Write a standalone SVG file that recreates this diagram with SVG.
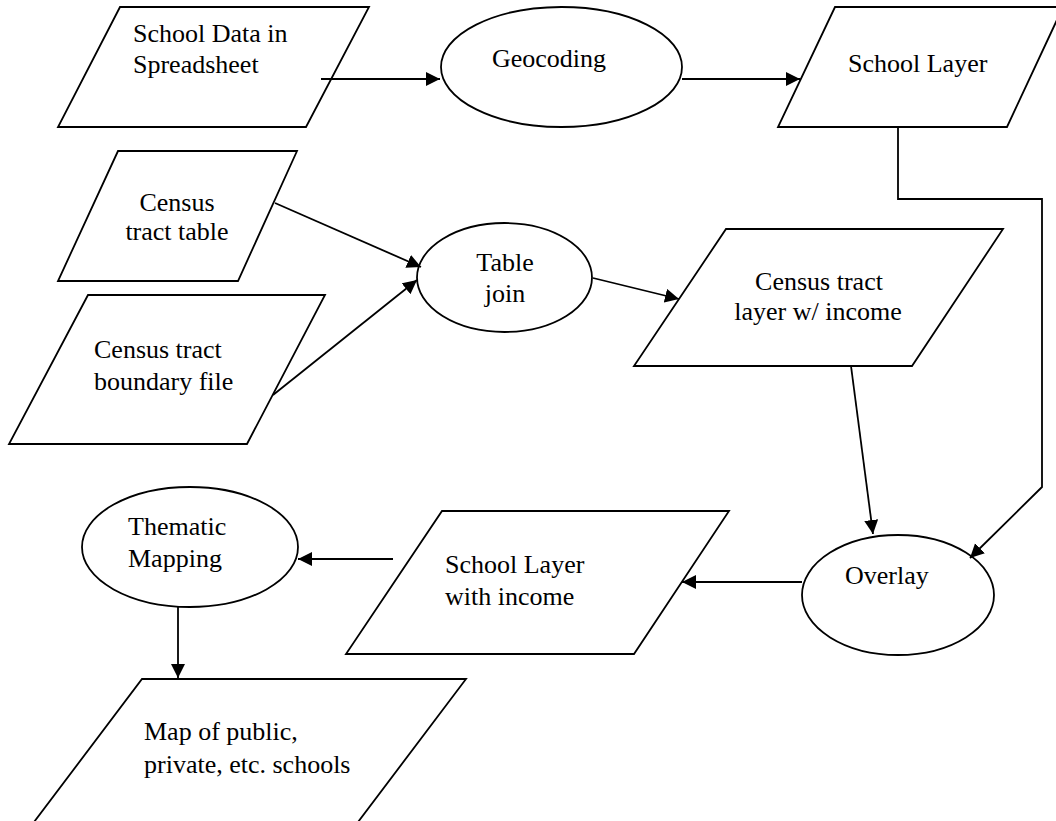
<svg xmlns="http://www.w3.org/2000/svg" width="1056" height="821" viewBox="0 0 1056 821">
  <style>
    .shape { fill: #ffffff; stroke: #000000; stroke-width: 1.8; }
    .link { fill: none; stroke: #000000; stroke-width: 1.8; }
    .label { font-family: "Liberation Serif", "Times New Roman", serif; font-size: 26px; fill: #000000; }
    .mid { text-anchor: middle; }
  </style>
  <defs>
    <marker id="arrow" markerUnits="userSpaceOnUse" markerWidth="15" markerHeight="15" refX="14" refY="7" orient="auto">
      <path d="M0,0 L14,7 L0,14 z" fill="#000000"/>
    </marker>
  </defs>
  <rect width="1056" height="821" fill="#ffffff"/>

  <g id="school-data">
    <polygon class="shape" points="120,7 369,7 306,127 58,127"/>
    <text class="label" x="133" y="42">School Data in</text>
    <text class="label" x="133" y="73">Spreadsheet</text>
  </g>

  <g id="geocoding">
    <ellipse class="shape" cx="561.5" cy="67" rx="120.5" ry="60"/>
    <text class="label" x="492" y="67">Geocoding</text>
  </g>

  <g id="school-layer">
    <polygon class="shape" points="835,7 1063,7 1007,127 778,127"/>
    <text class="label" x="848" y="72">School Layer</text>
  </g>

  <g id="census-table">
    <polygon class="shape" points="118,151 297,151 238,281 58,281"/>
    <text class="label mid" x="177" y="211">Census</text>
    <text class="label mid" x="177" y="240">tract table</text>
  </g>

  <g id="census-boundary">
    <polygon class="shape" points="88,295 325,295 247,444 9,444"/>
    <text class="label" x="94" y="358">Census tract</text>
    <text class="label" x="94" y="390">boundary file</text>
  </g>

  <g id="table-join">
    <ellipse class="shape" cx="504.5" cy="277.5" rx="87.5" ry="54.5"/>
    <text class="label mid" x="505" y="271">Table</text>
    <text class="label mid" x="505" y="302">join</text>
  </g>

  <g id="census-layer">
    <polygon class="shape" points="726,229 1003,229 912,366 634,366"/>
    <text class="label mid" x="819" y="290">Census tract</text>
    <text class="label mid" x="818" y="320">layer w/ income</text>
  </g>

  <g id="overlay">
    <ellipse class="shape" cx="898" cy="595" rx="96" ry="60"/>
    <text class="label" x="845" y="584">Overlay</text>
  </g>

  <g id="school-income">
    <polygon class="shape" points="442,511 729,511 634,654 346,654"/>
    <text class="label" x="445" y="573">School Layer</text>
    <text class="label" x="445" y="605">with income</text>
  </g>

  <g id="thematic-mapping">
    <ellipse class="shape" cx="190" cy="547" rx="108" ry="60"/>
    <text class="label" x="128" y="535">Thematic</text>
    <text class="label" x="128" y="567">Mapping</text>
  </g>

  <g id="school-map">
    <polygon class="shape" points="142,679 466,679 352,830 28,830"/>
    <text class="label" x="144" y="740">Map of public,</text>
    <text class="label" x="144" y="773">private, etc. schools</text>
  </g>

  <g id="connectors">
    <line class="link" x1="321" y1="79" x2="440" y2="79" marker-end="url(#arrow)"/>
    <line class="link" x1="682" y1="79" x2="800" y2="79" marker-end="url(#arrow)"/>
    <polyline class="link" points="898,127 898,199 1042,199 1042,487 970,558" marker-end="url(#arrow)"/>
    <line class="link" x1="275" y1="203" x2="421" y2="267" marker-end="url(#arrow)"/>
    <line class="link" x1="273" y1="395" x2="417" y2="280" marker-end="url(#arrow)"/>
    <line class="link" x1="593" y1="278" x2="679" y2="299" marker-end="url(#arrow)"/>
    <line class="link" x1="851" y1="366" x2="873" y2="534" marker-end="url(#arrow)"/>
    <line class="link" x1="802" y1="582" x2="682" y2="582" marker-end="url(#arrow)"/>
    <line class="link" x1="393" y1="559" x2="298" y2="559" marker-end="url(#arrow)"/>
    <line class="link" x1="178" y1="607" x2="178" y2="678" marker-end="url(#arrow)"/>
  </g>
</svg>
